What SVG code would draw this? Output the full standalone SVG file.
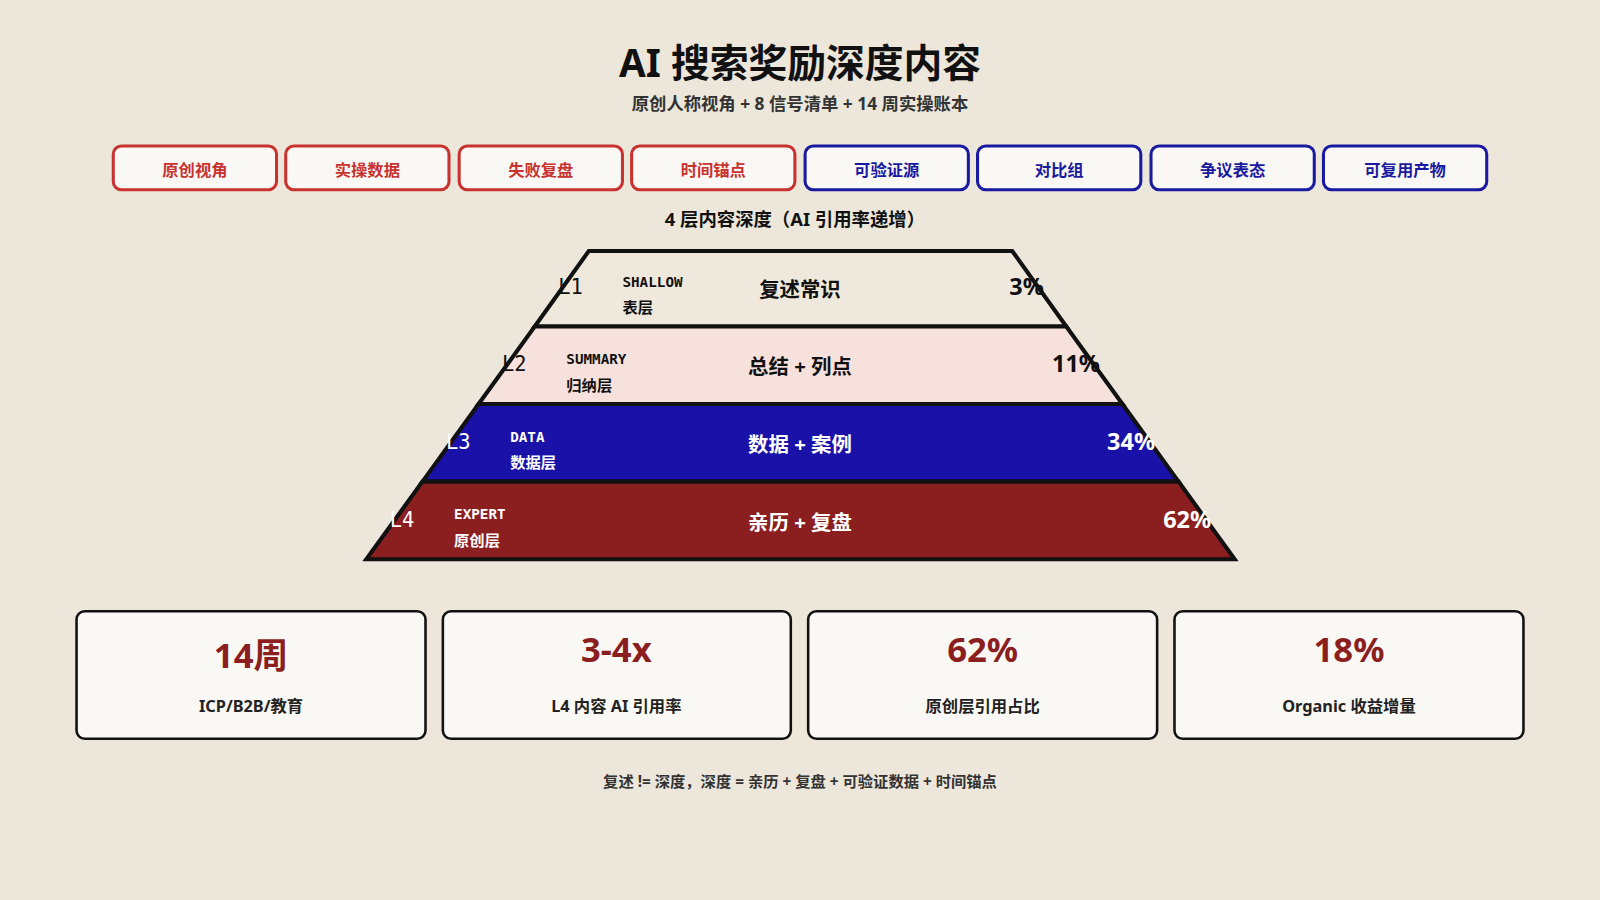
<svg xmlns="http://www.w3.org/2000/svg" width="1600" height="900" viewBox="0 0 1600 900">
<style>
text{font-family:"Noto Sans","Noto Sans CJK SC",sans-serif;font-weight:700;}
.tr rect{fill:#faf8f4;stroke:#c8322f;stroke-width:3}
.tr text{fill:#c8322f;font-size:16px}
.tb rect{fill:#faf8f4;stroke:#1a1aa0;stroke-width:3}
.tb text{fill:#1a1aa0;font-size:16px}
.band{stroke:#111;stroke-width:4;stroke-linejoin:miter}
.lv{font-size:20px;font-weight:400;font-family:"DejaVu Sans Mono",monospace}
.en{font-size:14px;font-family:"DejaVu Sans Mono",monospace;font-weight:700}
.zh{font-size:15px}
.mid{font-size:20px}
.pct{font-size:23px}
.card rect{fill:#faf8f4;stroke:#111;stroke-width:2.5}
.big{fill:#8b1f1f;font-size:34px}
.cap{fill:#222;font-size:16px}
</style>
<rect width="1600" height="900" fill="#ece7da"/>
<g transform="scale(1.0204)">
<text x="784" y="75" text-anchor="middle" font-size="38" fill="#111">AI 搜索奖励深度内容</text>
<text x="784" y="108" text-anchor="middle" font-size="17" fill="#333">原创人称视角 + 8 信号清单 + 14 周实操账本</text>
<g id="tags" text-anchor="middle">
<g id="t1" class="tr"><rect x="111" y="143" width="160" height="43" rx="8"/><text x="191" y="172">原创视角</text></g>
<g id="t2" class="tr"><rect x="280" y="143" width="160" height="43" rx="8"/><text x="360" y="172">实操数据</text></g>
<g id="t3" class="tr"><rect x="450" y="143" width="160" height="43" rx="8"/><text x="530" y="172">失败复盘</text></g>
<g id="t4" class="tr"><rect x="619" y="143" width="160" height="43" rx="8"/><text x="699" y="172">时间锚点</text></g>
<g id="t5" class="tb"><rect x="789" y="143" width="160" height="43" rx="8"/><text x="869" y="172">可验证源</text></g>
<g id="t6" class="tb"><rect x="958" y="143" width="160" height="43" rx="8"/><text x="1038" y="172">对比组</text></g>
<g id="t7" class="tb"><rect x="1128" y="143" width="160" height="43" rx="8"/><text x="1208" y="172">争议表态</text></g>
<g id="t8" class="tb"><rect x="1297" y="143" width="160" height="43" rx="8"/><text x="1377" y="172">可复用产物</text></g>
</g>
<text x="779" y="221" text-anchor="middle" font-size="18" fill="#111">4 层内容深度（AI 引用率递增）</text>
<g id="L1"><polygon class="band" points="577,246 992,246 1045,320 524,320" fill="#efe8dc"/>
<text class="lv" x="547" y="288" fill="#111">L1</text><text class="en" x="610" y="281" fill="#111">SHALLOW</text><text class="zh" x="610" y="307" fill="#111">表层</text>
<text class="mid" x="784" y="291" text-anchor="middle" fill="#111">复述常识</text><text class="pct" x="1023" y="289" text-anchor="end" fill="#111">3%</text></g>
<g id="L2"><polygon class="band" points="524,320 1045,320 1100,396 469,396" fill="#f7e1dc"/>
<text class="lv" x="492" y="364" fill="#111">L2</text><text class="en" x="555" y="357" fill="#111">SUMMARY</text><text class="zh" x="555" y="383" fill="#111">归纳层</text>
<text class="mid" x="784" y="367" text-anchor="middle" fill="#111">总结 + 列点</text><text class="pct" x="1078" y="365" text-anchor="end" fill="#111">11%</text></g>
<g id="L3"><polygon class="band" points="469,396 1100,396 1155,472 414,472" fill="#1a12a8"/>
<text class="lv" x="437" y="440" fill="#fff">L3</text><text class="en" x="500" y="433" fill="#fff">DATA</text><text class="zh" x="500" y="459" fill="#fff">数据层</text>
<text class="mid" x="784" y="443" text-anchor="middle" fill="#fff">数据 + 案例</text><text class="pct" x="1132" y="441" text-anchor="end" fill="#fff">34%</text></g>
<g id="L4"><polygon class="band" points="414,472 1155,472 1210,548 359,548" fill="#8b1f1f"/>
<text class="lv" x="382" y="516" fill="#fff">L4</text><text class="en" x="445" y="509" fill="#fff">EXPERT</text><text class="zh" x="445" y="535" fill="#fff">原创层</text>
<text class="mid" x="784" y="519" text-anchor="middle" fill="#fff">亲历 + 复盘</text><text class="pct" x="1187" y="517" text-anchor="end" fill="#fff">62%</text></g>
<g id="cards" text-anchor="middle">
<g id="c1" class="card"><rect x="75" y="599" width="342" height="125" rx="8"/><text class="big" x="246" y="655" font-size="38">14周</text><text class="cap" x="246" y="698">ICP/B2B/教育</text></g>
<g id="c2" class="card"><rect x="434" y="599" width="341" height="125" rx="8"/><text class="big" x="604" y="649">3-4x</text><text class="cap" x="604" y="698">L4 内容 AI 引用率</text></g>
<g id="c3" class="card"><rect x="792" y="599" width="342" height="125" rx="8"/><text class="big" x="963" y="649">62%</text><text class="cap" x="963" y="698">原创层引用占比</text></g>
<g id="c4" class="card"><rect x="1151" y="599" width="342" height="125" rx="8"/><text class="big" x="1322" y="649">18%</text><text class="cap" x="1322" y="698">Organic 收益增量</text></g>
</g>
<text x="784" y="771" text-anchor="middle" font-size="15" fill="#333">复述 != 深度，深度 = 亲历 + 复盘 + 可验证数据 + 时间锚点</text>
</g>
</svg>
